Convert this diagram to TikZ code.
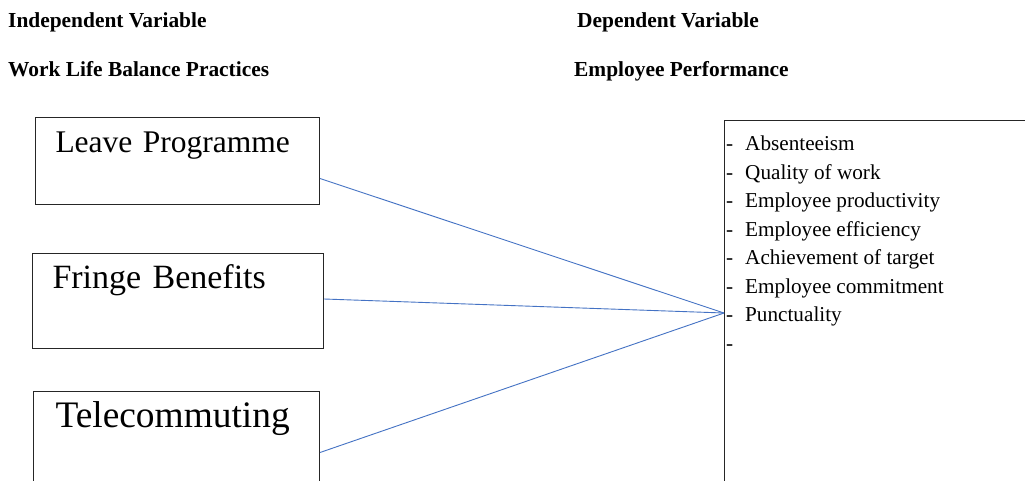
\documentclass[tikz,border=0pt]{standalone}
\usepackage{fontspec}
\setmainfont{Liberation Serif}
\usepackage{tikz,xcolor}
\usetikzlibrary{calc}
\definecolor{linkblue}{RGB}{68,114,196}

\begin{document}
\begin{tikzpicture}[x=1pt,y=-1pt,
  head/.style={anchor=base west,inner sep=0pt,font=\fontsize{21.4}{25}\selectfont\bfseries},
  varbox/.style={draw=black!85,line width=1pt,anchor=north west,inner ysep=0pt,inner xsep=20pt,align=left},
  link/.style={linkblue,line width=0.9pt},
  listitem/.style={anchor=base west,inner sep=0pt,font=\fontsize{21.2}{25}\selectfont}]
 \clip (0,0) rectangle (1025,481);
 \fill[white] (0,0) rectangle (1025,481);
 % headings
 \node[head] (indep) at (8,28) {Independent Variable};
 \node[head] (wlb) at (8,77) {Work Life Balance Practices};
 \node[head] (dep) at (577,28) {Dependent Variable};
 \node[head] (perfhead) at (574,77) {Employee Performance};
 % independent variables
 \node[varbox,text width=244pt,text height=35pt,text depth=52pt,font=\fontsize{31.5}{36}\selectfont] (leave) at (35,117) {Leave Programme};
 \node[varbox,text width=251pt,text height=35pt,text depth=60pt,font=\fontsize{34}{40}\selectfont] (fringe) at (32,253) {Fringe Benefits};
 \node[varbox,inner xsep=22pt,text width=242pt,text height=36pt,text depth=70pt,font=\fontsize{37.4}{42}\selectfont] (tele) at (33,391) {Telecommuting};
 % dependent variable
 \node[draw=black!85,line width=1pt,anchor=north west,minimum width=400pt,minimum height=420pt,inner sep=0pt] (perf) at (724,120) {};
 \foreach \txt [count=\i from 0] in {Absenteeism,Quality of work,Employee productivity,Employee efficiency,Achievement of target,Employee commitment,Punctuality,{}}
  \node[listitem] (it\i) at ($(perf.north west)+(2,{30.7+28.5*\i})$) {\makebox[19pt][l]{-}\txt};
 \coordinate (meet) at ($(perf.north west)+(0,193)$);
 % links
 \draw[link] ([yshift=-17.5pt]leave.east) -- (meet);
 \draw[link] ([yshift=2pt]fringe.east) -- (meet);
 \draw[link] ([yshift=-8pt]tele.east) -- (meet);
\end{tikzpicture}
\end{document}
